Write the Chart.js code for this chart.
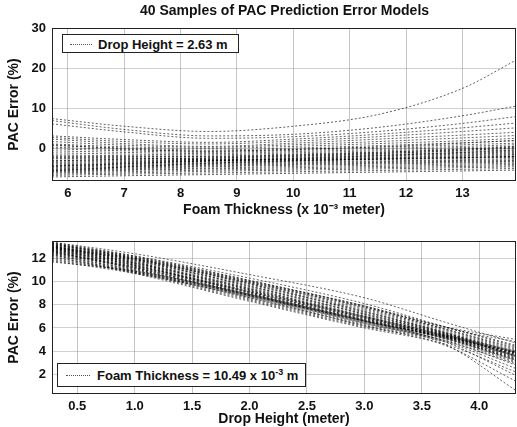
<!DOCTYPE html>
<html>
<head>
<meta charset="utf-8">
<script src="https://cdn.jsdelivr.net/npm/chart.js@4"></script>
<style>
  body { margin: 0; background: #fff; overflow: hidden; }
  #wrap { position: relative; width: 517px; height: 427px; font-family: "Liberation Sans", Arial, sans-serif; }
  canvas { position: absolute; left: 0; }
  #topChart { top: 0; }
  #bottomChart { top: 215px; }
  #title {
    position: absolute; left: 52px; width: 465px; top: 2px; text-align: center;
    font-weight: bold; font-size: 14px; color: #111; white-space: nowrap;
  }
  .legend {
    position: absolute; background: #fff; border: 1px solid #222;
    font-weight: bold; font-size: 13px; color: #111; box-sizing: border-box;
    white-space: nowrap; line-height: 1;
  }
  .legend .sample { display: inline-block; vertical-align: middle; width: 22px; border-top: 1px dotted #555; margin: 0 6px 0 7px; }
  .legend .txt { vertical-align: middle; }
  #legTop { left: 62px; top: 34px; width: 177px; height: 19px; padding-top: 2px; }
  #legBottom { left: 57px; top: 363px; width: 249px; height: 24px; padding-top: 4px; }
  #legBottom .sample { width: 24px; margin: 0 7px 0 8px; }
  sup { font-size: 9px; line-height: 0; }
</style>
</head>
<body>
<div id="wrap">
  <canvas id="topChart" width="517" height="225"></canvas>
  <canvas id="bottomChart" width="517" height="214"></canvas>
  <div id="title">40 Samples of PAC Prediction Error Models</div>
  <div class="legend" id="legTop"><span class="sample"></span><span class="txt">Drop Height = 2.63 m</span></div>
  <div class="legend" id="legBottom"><span class="sample"></span><span class="txt">Foam Thickness = 10.49 x 10<sup>-3</sup> m</span></div>
</div>
<script>
// Top panel: foam thickness (x 10^-3 m) sample positions
const thicknessX = [5.72, 7, 8.5, 10, 11.5, 13, 13.95];
const thicknessTicks = [6, 7, 8, 9, 10, 11, 12, 13];
const topErrorTicks = [0, 10, 20, 30];

// 40 sampled error curves at drop height 2.63 m
const topCurves = [
  [7.5, 5.6, 4.3, 5.6, 8.5, 15.0, 22.0],
  [7.0, 4.8, 3.2, 3.6, 5.3, 8.2, 10.6],
  [6.2, 4.2, 2.6, 3.0, 4.3, 6.3, 8.0],
  [3.2, 2.3, 1.6, 2.4, 3.6, 5.2, 6.4],
  [2.8, 1.8, 1.2, 1.9, 3.0, 4.3, 5.2],
  [2.4, 1.3, 0.6, 1.4, 2.4, 3.4, 4.1],
  [1.8, 0.9, 0.4, 1.0, 1.8, 2.7, 3.3],
  [1.2, 0.5, 0.1, 0.6, 1.3, 2.0, 2.6],
  [0.8, 0.2, -0.3, 0.2, 0.8, 1.5, 2.0],
  [0.4, -0.2, -0.6, -0.1, 0.4, 1.0, 1.4],
  [0.0, -0.5, -0.9, -0.4, 0.1, 0.6, 1.0],
  [-0.5, -0.9, -1.2, -0.7, -0.2, 0.3, 0.6],
  [-1.0, -1.3, -1.5, -1.0, -0.5, 0.0, 0.3],
  [-1.5, -1.7, -1.8, -1.3, -0.8, -0.3, 0.0],
  [-2.0, -2.1, -2.1, -1.6, -1.1, -0.6, -0.3],
  [-2.4, -2.5, -2.4, -1.9, -1.4, -0.9, -0.6],
  [-2.8, -2.8, -2.6, -2.1, -1.6, -1.1, -0.8],
  [-3.1, -3.0, -2.8, -2.3, -1.8, -1.3, -1.0],
  [-3.4, -3.2, -2.9, -2.5, -2.0, -1.5, -1.2],
  [-3.7, -3.4, -3.0, -2.6, -2.2, -1.7, -1.4],
  [-4.0, -3.6, -3.1, -2.7, -2.3, -1.9, -1.6],
  [-4.2, -3.8, -3.3, -2.9, -2.5, -2.1, -1.9],
  [-4.4, -4.0, -3.5, -3.1, -2.7, -2.4, -2.1],
  [-4.6, -4.2, -3.7, -3.3, -3.0, -2.7, -2.4],
  [-4.8, -4.4, -3.9, -3.5, -3.2, -2.9, -2.7],
  [-5.0, -4.6, -4.1, -3.7, -3.4, -3.1, -2.9],
  [-5.2, -4.8, -4.3, -3.9, -3.6, -3.3, -3.1],
  [-5.4, -5.0, -4.5, -4.1, -3.8, -3.5, -3.3],
  [-5.6, -5.2, -4.8, -4.4, -4.1, -3.8, -3.6],
  [-5.8, -5.4, -5.0, -4.7, -4.4, -4.1, -3.9],
  [-6.0, -5.7, -5.3, -5.0, -4.7, -4.4, -4.2],
  [-6.3, -6.0, -5.6, -5.3, -5.0, -4.7, -4.5],
  [-6.6, -6.3, -6.0, -5.7, -5.4, -5.1, -4.9],
  [-7.0, -6.7, -6.4, -6.1, -5.8, -5.5, -5.3],
  [-3.0, -2.6, -2.3, -1.8, -1.2, -0.4, 0.2],
  [-1.8, -1.9, -1.9, -1.5, -0.9, -0.1, 0.5],
  [1.0, 0.0, -0.6, -0.2, 0.5, 1.4, 2.1],
  [-4.3, -3.7, -3.0, -2.4, -1.7, -0.9, -0.3],
  [-5.5, -4.5, -3.6, -3.0, -2.5, -2.2, -2.0],
  [-2.2, -2.3, -2.7, -2.8, -2.6, -2.2, -1.9]
];

// Bottom panel: drop height (m) sample positions
const heightX = [0.28, 1, 2, 3, 3.7, 4.32];
const heightTicks = [0.5, 1, 1.5, 2, 2.5, 3, 3.5, 4];
const bottomErrorTicks = [2, 4, 6, 8, 10, 12];

// 40 sampled error curves at foam thickness 10.49 x 10^-3 m
const bottomCurves = [
  [13.4, 12.4, 10.6, 8.6, 6.5, 4.7],
  [13.3, 12.2, 10.3, 8.1, 6.1, 4.4],
  [13.2, 12.1, 10.1, 7.8, 5.9, 4.2],
  [13.2, 12.0, 9.9, 7.6, 5.8, 4.1],
  [13.1, 11.9, 9.8, 7.5, 5.7, 4.0],
  [13.1, 11.8, 9.7, 7.4, 5.6, 3.9],
  [13.0, 11.8, 9.6, 7.3, 5.6, 3.9],
  [13.0, 11.7, 9.5, 7.2, 5.5, 3.8],
  [12.9, 11.6, 9.4, 7.1, 5.5, 3.8],
  [12.9, 11.6, 9.3, 7.0, 5.4, 3.7],
  [12.8, 11.5, 9.2, 6.9, 5.4, 3.6],
  [12.8, 11.4, 9.1, 6.8, 5.3, 3.5],
  [12.7, 11.4, 9.0, 6.7, 5.3, 3.4],
  [12.7, 11.3, 8.9, 6.6, 5.2, 3.3],
  [12.6, 11.2, 8.8, 6.5, 5.2, 3.2],
  [12.6, 11.1, 8.7, 6.4, 5.1, 3.1],
  [12.5, 11.0, 8.6, 6.3, 5.0, 3.0],
  [12.4, 10.9, 8.5, 6.2, 4.9, 2.8],
  [12.3, 10.8, 8.4, 6.1, 4.8, 2.5],
  [12.2, 10.7, 8.3, 6.0, 4.6, 2.2],
  [12.0, 10.8, 8.6, 6.2, 4.5, 1.4],
  [11.8, 10.7, 8.7, 6.4, 4.6, 0.6],
  [11.7, 10.9, 8.9, 6.6, 4.8, 1.9],
  [13.0, 12.0, 10.0, 7.9, 6.0, 4.8],
  [12.9, 11.9, 9.9, 7.8, 6.1, 5.0],
  [13.3, 12.0, 9.8, 7.4, 5.6, 3.6],
  [13.2, 11.9, 9.6, 7.2, 5.5, 3.5],
  [13.1, 11.7, 9.4, 7.0, 5.4, 3.6],
  [13.0, 11.6, 9.3, 6.9, 5.3, 3.7],
  [12.9, 11.5, 9.1, 6.8, 5.3, 3.8],
  [12.8, 11.4, 9.0, 6.7, 5.2, 3.9],
  [12.7, 11.2, 8.9, 6.6, 5.2, 3.4],
  [12.6, 11.1, 8.8, 6.6, 5.1, 3.3],
  [12.5, 11.3, 9.2, 7.0, 5.4, 4.0],
  [12.4, 11.2, 9.1, 6.9, 5.3, 3.9],
  [12.3, 11.0, 8.9, 6.7, 5.2, 3.6],
  [12.1, 10.9, 8.8, 6.6, 5.1, 3.2],
  [13.4, 12.2, 10.1, 7.9, 6.1, 4.5],
  [13.3, 12.1, 10.0, 7.7, 5.9, 4.3],
  [11.9, 10.8, 8.8, 6.5, 4.9, 2.9]
];

const family = '"Liberation Sans", Arial, sans-serif';
const tickFont = { family: family, size: 13, weight: 'bold' };
const labelFont = { family: family, size: 14, weight: 'bold' };

// draw the full axes box like the original figure
const boxPlugin = {
  id: 'box',
  afterDraw(chart) {
    const a = chart.chartArea;
    const ctx = chart.ctx;
    ctx.save();
    ctx.strokeStyle = '#222';
    ctx.lineWidth = 1;
    ctx.strokeRect(a.left + 0.5, a.top + 0.5, a.right - a.left - 1, a.bottom - a.top - 1);
    ctx.restore();
  }
};

const makeDatasets = (xs, curves) => curves.map(c => ({
  data: c.map((v, i) => ({ x: xs[i], y: v })),
  borderColor: 'rgba(0,0,0,0.62)',
  borderWidth: 1,
  borderDash: [2, 2],
  pointRadius: 0,
  cubicInterpolationMode: 'monotone',
  fill: false
}));

const makeChart = (id, xs, curves, o) => new Chart(document.getElementById(id), {
  type: 'line',
  data: { datasets: makeDatasets(xs, curves) },
  options: {
    responsive: false,
    animation: false,
    layout: { padding: { top: o.padTop, right: 1, left: 0, bottom: o.padBottom } },
    plugins: {
      legend: { display: false },
      tooltip: { enabled: false }
    },
    scales: {
      x: {
        type: 'linear',
        min: o.xMin, max: o.xMax,
        afterBuildTicks: s => { s.ticks = o.xTicks.map(v => ({ value: v })); },
        afterFit: s => { s.height = o.xHeight; },
        ticks: { color: '#111', font: tickFont, padding: 5, maxRotation: 0 },
        grid: { color: 'rgba(150,150,150,0.55)', borderDash: [1, 4], drawTicks: false },
        border: { display: false },
        title: { display: true, text: o.xTitle, color: '#111', font: labelFont, padding: { top: 0, bottom: 0 } }
      },
      y: {
        type: 'linear',
        min: o.yMin, max: o.yMax,
        afterBuildTicks: s => { s.ticks = o.yTicks.map(v => ({ value: v })); },
        afterFit: s => { s.width = 52; },
        ticks: { color: '#111', font: tickFont, padding: 6 },
        grid: { color: 'rgba(150,150,150,0.45)', borderDash: [1, 4], drawTicks: false },
        border: { display: false },
        title: { display: true, text: 'PAC Error (%)', color: '#111', font: labelFont, padding: { top: 6, bottom: 0 } }
      }
    }
  },
  plugins: [boxPlugin]
});

makeChart('topChart', thicknessX, topCurves, {
  padTop: 28, padBottom: 6,
  xMin: 5.72, xMax: 13.95, xTicks: thicknessTicks,
  yMin: -8, yMax: 30, yTicks: topErrorTicks,
  xHeight: 38,
  xTitle: 'Foam Thickness (x 10⁻³ meter)'
});

makeChart('bottomChart', heightX, bottomCurves, {
  padTop: 26, padBottom: 1,
  xMin: 0.28, xMax: 4.32, xTicks: heightTicks,
  yMin: 0.3, yMax: 13.5, yTicks: bottomErrorTicks,
  xHeight: 34,
  xTitle: 'Drop Height (meter)'
});
</script>
</body>
</html>
